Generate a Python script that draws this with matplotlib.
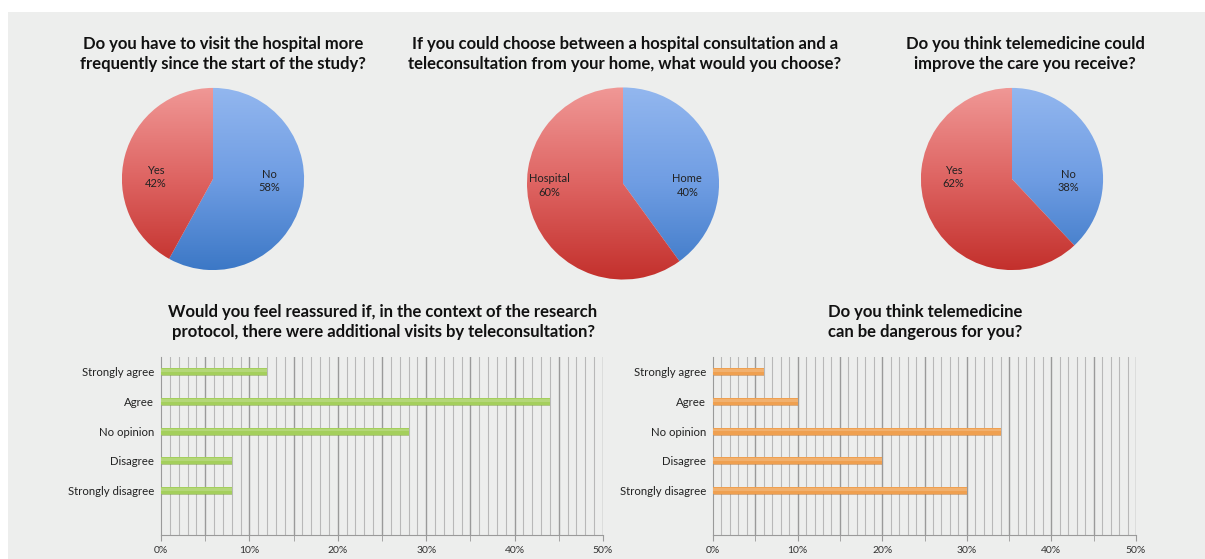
import numpy as np
import matplotlib
matplotlib.use("Agg")
import matplotlib.pyplot as plt
from matplotlib.patches import Rectangle
from matplotlib.colors import LinearSegmentedColormap

plt.rcParams['font.family'] = ['Lato', 'DejaVu Sans']

# ---- data ----
pie_titles = [
    "Do you have to visit the hospital more\nfrequently since the start of the study?",
    "If you could choose between a hospital consultation and a\nteleconsultation from your home, what would you choose?",
    "Do you think telemedicine could\nimprove the care you receive?",
]
pie_labels = [["No", "Yes"], ["Home", "Hospital"], ["No", "Yes"]]
pie_values = [[58, 42], [40, 60], [38, 62]]

bar_categories = ["Strongly agree", "Agree", "No opinion", "Disagree", "Strongly disagree"]
reassured_values = [12, 44, 28, 8, 8]
dangerous_values = [6, 10, 34, 20, 30]
bar_titles = [
    "Would you feel reassured if, in the context of the research\nprotocol, there were additional visits by teleconsultation?",
    "Do you think telemedicine\ncan be dangerous for you?",
]
xtick_values = [0, 10, 20, 30, 40, 50]
xtick_labels = ["0%", "10%", "20%", "30%", "40%", "50%"]

W, H = 1205, 559
fig = plt.figure(figsize=(W / 100, H / 100), dpi=100, facecolor="white")
BG = "#edeeed"
fig.patches.append(Rectangle((8 / W, 0), 1 - 8 / W, 1 - 12 / H,
                             transform=fig.transFigure, facecolor=BG,
                             edgecolor="none", zorder=-10))


def px_axes(left, top, width, height):
    return fig.add_axes([left / W, 1 - (top + height) / H, width / W, height / H])


blue_cmap = LinearSegmentedColormap.from_list("b", ["#3c78c6", "#6f9de3", "#93b7ef"])
red_cmap = LinearSegmentedColormap.from_list("r", ["#c3302c", "#de6462", "#f09896"])
grad = np.linspace(0, 1, 256).reshape(-1, 1)

# ---- pies ----
pie_geom = [(213, 179, 92), (623, 183.5, 97), (1012, 179, 92)]
title_x = [223, 625, 1025]
label_pos = [
    [(0.62, -0.02), (-0.63, 0.02)],
    [(0.67, -0.02), (-0.77, -0.02)],
    [(0.62, -0.02), (-0.64, 0.02)],
]
for i, (cx, cy, r) in enumerate(pie_geom):
    ax = px_axes(cx - r, cy - r, 2 * r, 2 * r)
    wedges, _ = ax.pie(pie_values[i], startangle=90, counterclock=False,
                       radius=1, wedgeprops=dict(linewidth=0))
    for w, cmap in zip(wedges, [blue_cmap, red_cmap]):
        w.set_facecolor("none")
        im = ax.imshow(grad, cmap=cmap, extent=(-1, 1, -1, 1), origin="lower",
                       aspect="auto", zorder=1)
        im.set_clip_path(w)
    ax.set_xlim(-1.01, 1.01)
    ax.set_ylim(-1.01, 1.01)
    ax.set_aspect("equal")
    ax.axis("off")
    for (lx, ly), lab, v in zip(label_pos[i], pie_labels[i], pie_values[i]):
        ax.text(lx, ly, f"{lab}\n{v}%", ha="center", va="center",
                fontsize=8, color="#222222", linespacing=1.25, zorder=3)
    fig.text(title_x[i] / W, 1 - 54 / H, pie_titles[i], ha="center", va="center",
             fontsize=12, fontweight="bold", color="#111111", linespacing=1.3)

# ---- bar charts ----
bar_geom = [(161, 442, "#a4cf5c", "#7fa83a", reassured_values),
            (713, 423, "#efa050", "#c87a30", dangerous_values)]
bar_title_x = [383, 925]
for j, (left, width, fc, shade, vals) in enumerate(bar_geom):
    ax = px_axes(left, 357, width, 178)
    ax.set_facecolor("none")
    y = np.arange(len(bar_categories))
    # soft shadow under each bar
    ax.barh(y + 0.035, vals, height=0.24, color=shade, alpha=0.55,
            linewidth=0, zorder=2)
    ax.barh(y, vals, height=0.24, color=fc, linewidth=0, zorder=3)
    # lighter sheen on the upper half
    ax.barh(y - 0.04, vals, height=0.09, color="white", alpha=0.18,
            linewidth=0, zorder=4)
    ax.set_xlim(0, 50)
    ax.set_ylim(len(bar_categories) + 0.5, -0.5)
    for xv in range(1, 51):
        major = xv % 5 == 0
        ax.axvline(xv, color="#9a9a9a" if major else "#b8b8b8",
                   lw=1.0 if major else 0.8, zorder=1)
    ax.set_xticks(xtick_values)
    ax.set_xticklabels(xtick_labels, fontsize=7.5, color="#333333")
    ax.set_xticks(range(0, 51, 5), minor=True)
    ax.tick_params(axis="x", which="both", length=4, color="#9a9a9a", pad=4)
    ax.set_yticks(y)
    ax.set_yticklabels(bar_categories, fontsize=8.2, color="#222222")
    ax.tick_params(axis="y", length=0, pad=5)
    for s in ["top", "right"]:
        ax.spines[s].set_visible(False)
    ax.spines["left"].set_color("#9a9a9a")
    ax.spines["bottom"].set_color("#9a9a9a")
    fig.text(bar_title_x[j] / W, 1 - 322 / H, bar_titles[j], ha="center",
             va="center", fontsize=12, fontweight="bold", color="#111111",
             linespacing=1.3)

fig.savefig("out.png", dpi=100, facecolor=fig.get_facecolor())
